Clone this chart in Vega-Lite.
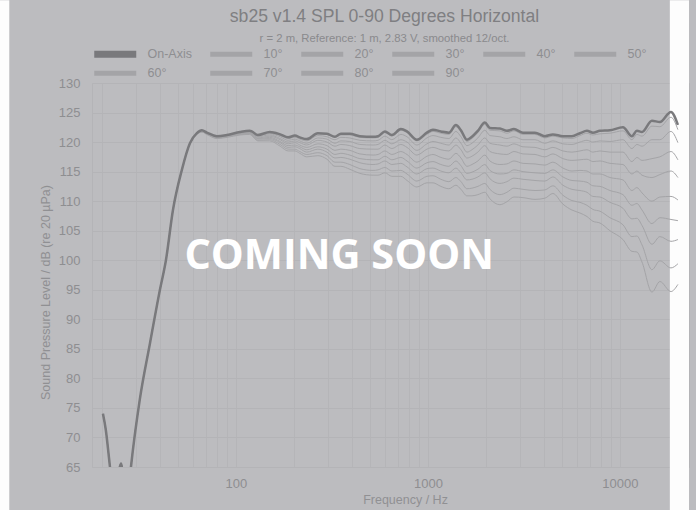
{
  "$schema": "https://vega.github.io/schema/vega-lite/v6.json",
  "width": 597,
  "height": 384,
  "autosize": "none",
  "padding": {"left": 92, "top": 83, "right": 7, "bottom": 43},
  "background": "#bcbcbf",
  "title": {
    "text": "sb25 v1.4 SPL 0-90 Degrees Horizontal",
    "subtitle": "r = 2 m,  Reference: 1 m, 2.83 V, smoothed 12/oct.",
    "anchor": "middle",
    "frame": "group",
    "font": "Liberation Sans",
    "fontSize": 17.6,
    "fontWeight": "normal",
    "color": "#7f7f82",
    "subtitleFont": "Liberation Sans",
    "subtitleFontSize": 11.3,
    "subtitleColor": "#8a8a8d",
    "subtitlePadding": 7,
    "offset": -44,
    "dx": -6
  },
  "datasets": {
    "spl": [
      {"f":20.3,"On-Axis":74,"10°":74,"20°":74,"30°":74,"40°":74,"50°":74,"60°":74,"70°":74,"80°":74,"90°":74},
      {"f":21,"On-Axis":71.3,"10°":71.3,"20°":71.3,"30°":71.3,"40°":71.3,"50°":71.3,"60°":71.3,"70°":71.3,"80°":71.3,"90°":71.3},
      {"f":22,"On-Axis":65.5,"10°":65.5,"20°":65.5,"30°":65.5,"40°":65.5,"50°":65.5,"60°":65.5,"70°":65.5,"80°":65.5,"90°":65.5},
      {"f":23,"On-Axis":60,"10°":60,"20°":60,"30°":60,"40°":60,"50°":60,"60°":60,"70°":60,"80°":60,"90°":60},
      {"f":24,"On-Axis":62.5,"10°":62.5,"20°":62.5,"30°":62.5,"40°":62.5,"50°":62.5,"60°":62.5,"70°":62.5,"80°":62.5,"90°":62.5},
      {"f":25.2,"On-Axis":65.6,"10°":65.6,"20°":65.6,"30°":65.6,"40°":65.6,"50°":65.6,"60°":65.6,"70°":65.6,"80°":65.6,"90°":65.6},
      {"f":26.3,"On-Axis":61,"10°":61,"20°":61,"30°":61,"40°":61,"50°":61,"60°":61,"70°":61,"80°":61,"90°":61},
      {"f":27.4,"On-Axis":60,"10°":60,"20°":60,"30°":60,"40°":60,"50°":60,"60°":60,"70°":60,"80°":60,"90°":60},
      {"f":28.4,"On-Axis":65,"10°":65,"20°":65,"30°":65,"40°":65,"50°":65,"60°":65,"70°":65,"80°":65,"90°":65},
      {"f":31.6,"On-Axis":76.5,"10°":76.5,"20°":76.5,"30°":76.5,"40°":76.5,"50°":76.5,"60°":76.5,"70°":76.5,"80°":76.5,"90°":76.5},
      {"f":35.7,"On-Axis":86,"10°":86,"20°":86,"30°":86,"40°":86,"50°":86,"60°":86,"70°":86,"80°":86,"90°":86},
      {"f":40.2,"On-Axis":95,"10°":95,"20°":95,"30°":95,"40°":95,"50°":95,"60°":95,"70°":95,"80°":95,"90°":95},
      {"f":43.2,"On-Axis":100,"10°":100,"20°":100,"30°":100,"40°":100,"50°":100,"60°":100,"70°":100,"80°":100,"90°":100},
      {"f":47,"On-Axis":108.5,"10°":108.5,"20°":108.5,"30°":108.5,"40°":108.5,"50°":108.5,"60°":108.5,"70°":108.5,"80°":108.5,"90°":108.5},
      {"f":52.3,"On-Axis":115.3,"10°":115.3,"20°":115.3,"30°":115.3,"40°":115.3,"50°":115.3,"60°":115.3,"70°":115.3,"80°":115.3,"90°":115.3},
      {"f":57.6,"On-Axis":119.8,"10°":119.8,"20°":119.8,"30°":119.8,"40°":119.8,"50°":119.8,"60°":119.7,"70°":119.7,"80°":119.7,"90°":119.7},
      {"f":62.6,"On-Axis":121.5,"10°":121.5,"20°":121.5,"30°":121.5,"40°":121.4,"50°":121.4,"60°":121.4,"70°":121.4,"80°":121.3,"90°":121.3},
      {"f":66.5,"On-Axis":122,"10°":122,"20°":122,"30°":121.9,"40°":121.9,"50°":121.9,"60°":121.8,"70°":121.8,"80°":121.7,"90°":121.7},
      {"f":70.6,"On-Axis":121.6,"10°":121.6,"20°":121.6,"30°":121.5,"40°":121.5,"50°":121.5,"60°":121.4,"70°":121.4,"80°":121.3,"90°":121.3},
      {"f":79.6,"On-Axis":121,"10°":121,"20°":121,"30°":120.9,"40°":120.9,"50°":120.8,"60°":120.8,"70°":120.7,"80°":120.7,"90°":120.6},
      {"f":89.8,"On-Axis":121.2,"10°":121.2,"20°":121.2,"30°":121.1,"40°":121.1,"50°":121,"60°":121,"70°":120.9,"80°":120.9,"90°":120.8},
      {"f":105,"On-Axis":121.7,"10°":121.7,"20°":121.6,"30°":121.6,"40°":121.5,"50°":121.5,"60°":121.4,"70°":121.3,"80°":121.3,"90°":121.2},
      {"f":118,"On-Axis":121.9,"10°":121.9,"20°":121.8,"30°":121.8,"40°":121.7,"50°":121.6,"60°":121.5,"70°":121.5,"80°":121.4,"90°":121.3},
      {"f":121,"On-Axis":121.8,"10°":121.8,"20°":121.7,"30°":121.6,"40°":121.6,"50°":121.5,"60°":121.4,"70°":121.3,"80°":121.2,"90°":121.1},
      {"f":130,"On-Axis":121.2,"10°":121.2,"20°":121.1,"30°":121,"40°":120.9,"50°":120.7,"60°":120.6,"70°":120.5,"80°":120.3,"90°":120.2},
      {"f":150,"On-Axis":121.7,"10°":121.7,"20°":121.5,"30°":121.4,"40°":121.2,"50°":121,"60°":120.8,"70°":120.6,"80°":120.4,"90°":120.2},
      {"f":170,"On-Axis":121.3,"10°":121.2,"20°":121.1,"30°":120.9,"40°":120.6,"50°":120.4,"60°":120.1,"70°":119.9,"80°":119.6,"90°":119.3},
      {"f":187,"On-Axis":120.8,"10°":120.7,"20°":120.6,"30°":120.3,"40°":120,"50°":119.7,"60°":119.4,"70°":119.1,"80°":118.8,"90°":118.5},
      {"f":203,"On-Axis":121.1,"10°":121,"20°":120.8,"30°":120.5,"40°":120.2,"50°":119.9,"60°":119.5,"70°":119.2,"80°":118.8,"90°":118.5},
      {"f":215,"On-Axis":120.8,"10°":120.7,"20°":120.5,"30°":120.2,"40°":119.9,"50°":119.5,"60°":119.2,"70°":118.9,"80°":118.4,"90°":118.1},
      {"f":234,"On-Axis":120.5,"10°":120.4,"20°":120.2,"30°":119.8,"40°":119.5,"50°":119.1,"60°":118.7,"70°":118.3,"80°":117.9,"90°":117.5},
      {"f":267,"On-Axis":121.5,"10°":121.4,"20°":121.1,"30°":120.7,"40°":120.3,"50°":119.7,"60°":119.2,"70°":118.8,"80°":118.2,"90°":117.7},
      {"f":298,"On-Axis":121.4,"10°":121.3,"20°":120.9,"30°":120.5,"40°":120,"50°":119.4,"60°":118.8,"70°":118.3,"80°":117.7,"90°":117.1},
      {"f":328,"On-Axis":120.9,"10°":120.8,"20°":120.4,"30°":119.8,"40°":119.3,"50°":118.6,"60°":117.9,"70°":117.3,"80°":116.6,"90°":115.9},
      {"f":352,"On-Axis":121.4,"10°":121.2,"20°":120.8,"30°":120.2,"40°":119.6,"50°":118.8,"60°":118.1,"70°":117.4,"80°":116.6,"90°":115.9},
      {"f":392,"On-Axis":121.4,"10°":121.2,"20°":120.7,"30°":120.1,"40°":119.4,"50°":118.6,"60°":117.8,"70°":117.1,"80°":116.2,"90°":115.4},
      {"f":442,"On-Axis":121,"10°":120.8,"20°":120.3,"30°":119.6,"40°":118.9,"50°":118,"60°":117.2,"70°":116.5,"80°":115.5,"90°":114.7},
      {"f":518,"On-Axis":120.9,"10°":120.7,"20°":120.2,"30°":119.5,"40°":118.8,"50°":117.8,"60°":117,"70°":116.2,"80°":115.2,"90°":114.4},
      {"f":550,"On-Axis":121,"10°":120.8,"20°":120.3,"30°":119.6,"40°":118.8,"50°":117.9,"60°":117,"70°":116.3,"80°":115.3,"90°":114.4},
      {"f":597,"On-Axis":121.8,"10°":121.6,"20°":121,"30°":120.3,"40°":119.5,"50°":118.5,"60°":117.6,"70°":116.8,"80°":115.7,"90°":114.8},
      {"f":649,"On-Axis":121.2,"10°":121,"20°":120.4,"30°":119.7,"40°":118.9,"50°":117.9,"60°":117,"70°":116.2,"80°":115.1,"90°":114.2},
      {"f":723,"On-Axis":122.2,"10°":122,"20°":121.3,"30°":120.4,"40°":119.6,"50°":118.4,"60°":117.4,"70°":116.4,"80°":115.2,"90°":114.2},
      {"f":778,"On-Axis":121.8,"10°":121.6,"20°":120.9,"30°":120,"40°":119.1,"50°":117.9,"60°":116.8,"70°":115.8,"80°":114.6,"90°":113.5},
      {"f":876,"On-Axis":120.4,"10°":120.2,"20°":119.5,"30°":118.6,"40°":117.8,"50°":116.6,"60°":115.6,"70°":114.6,"80°":113.4,"90°":112.4},
      {"f":988,"On-Axis":121.6,"10°":121.3,"20°":120.7,"30°":119.7,"40°":118.8,"50°":117.6,"60°":116.5,"70°":115.5,"80°":114.2,"90°":113.1},
      {"f":1062,"On-Axis":122.1,"10°":121.8,"20°":121.1,"30°":120.1,"40°":119.1,"50°":117.9,"60°":116.7,"70°":115.6,"80°":114.3,"90°":113.1},
      {"f":1168,"On-Axis":121.8,"10°":121.5,"20°":120.8,"30°":119.8,"40°":118.7,"50°":117.4,"60°":116.2,"70°":115.1,"80°":113.7,"90°":112.5},
      {"f":1286,"On-Axis":121.6,"10°":121.3,"20°":120.6,"30°":119.5,"40°":118.5,"50°":117.1,"60°":115.9,"70°":114.8,"80°":113.3,"90°":112.1},
      {"f":1399,"On-Axis":122.9,"10°":122.6,"20°":121.8,"30°":120.7,"40°":119.5,"50°":118.1,"60°":116.8,"70°":115.6,"80°":114,"90°":112.7},
      {"f":1486,"On-Axis":122,"10°":121.7,"20°":120.9,"30°":119.8,"40°":118.7,"50°":117.3,"60°":116,"70°":114.8,"80°":113.3,"90°":112},
      {"f":1597,"On-Axis":120.4,"10°":120.1,"20°":119.4,"30°":118.3,"40°":117.3,"50°":115.9,"60°":114.7,"70°":113.6,"80°":112.1,"90°":110.9},
      {"f":1695,"On-Axis":120.9,"10°":120.6,"20°":119.8,"30°":118.7,"40°":117.6,"50°":116.2,"60°":114.9,"70°":113.7,"80°":112.2,"90°":110.9},
      {"f":1820,"On-Axis":121.9,"10°":121.6,"20°":120.7,"30°":119.5,"40°":118.3,"50°":116.8,"60°":115.4,"70°":114.1,"80°":112.5,"90°":111.1},
      {"f":1980,"On-Axis":123.3,"10°":123,"20°":122,"30°":120.7,"40°":119.4,"50°":117.8,"60°":116.2,"70°":114.8,"80°":113,"90°":111.5},
      {"f":2103,"On-Axis":122.4,"10°":122,"20°":121.1,"30°":119.8,"40°":118.4,"50°":116.8,"60°":115.2,"70°":113.8,"80°":112,"90°":110.4},
      {"f":2371,"On-Axis":122.3,"10°":121.9,"20°":120.9,"30°":119.5,"40°":118,"50°":116.2,"60°":114.6,"70°":113,"80°":111.1,"90°":109.4},
      {"f":2578,"On-Axis":121.9,"10°":121.5,"20°":120.6,"30°":119.3,"40°":117.9,"50°":116.3,"60°":114.7,"70°":113.3,"80°":111.5,"90°":109.9},
      {"f":2805,"On-Axis":122.2,"10°":121.9,"20°":120.9,"30°":119.7,"40°":118.4,"50°":116.8,"60°":115.3,"70°":113.9,"80°":112.2,"90°":110.7},
      {"f":3126,"On-Axis":121.6,"10°":121.3,"20°":120.4,"30°":119.2,"40°":118,"50°":116.4,"60°":115,"70°":113.7,"80°":112,"90°":110.6},
      {"f":3610,"On-Axis":121.6,"10°":121.3,"20°":120.4,"30°":119.1,"40°":117.9,"50°":116.3,"60°":114.8,"70°":113.5,"80°":111.8,"90°":110.3},
      {"f":4067,"On-Axis":121,"10°":120.7,"20°":119.8,"30°":118.7,"40°":117.5,"50°":116.1,"60°":114.7,"70°":113.4,"80°":111.9,"90°":110.5},
      {"f":4477,"On-Axis":121.3,"10°":121,"20°":120.2,"30°":119.1,"40°":118,"50°":116.6,"60°":115.3,"70°":114.1,"80°":112.6,"90°":111.3},
      {"f":5047,"On-Axis":121,"10°":120.7,"20°":119.7,"30°":118.5,"40°":117.2,"50°":115.6,"60°":114.1,"70°":112.7,"80°":111,"90°":109.5},
      {"f":5623,"On-Axis":121,"10°":120.6,"20°":119.6,"30°":118.3,"40°":116.9,"50°":115.1,"60°":113.5,"70°":112,"80°":110.1,"90°":108.5},
      {"f":6190,"On-Axis":121.5,"10°":121.1,"20°":120,"30°":118.5,"40°":117,"50°":115.2,"60°":113.4,"70°":111.8,"80°":109.8,"90°":108},
      {"f":6735,"On-Axis":121.9,"10°":121.5,"20°":120.3,"30°":118.7,"40°":117.1,"50°":115.1,"60°":113.2,"70°":111.5,"80°":109.3,"90°":107.4},
      {"f":7230,"On-Axis":121.6,"10°":121.2,"20°":120,"30°":118.3,"40°":116.7,"50°":114.6,"60°":112.6,"70°":110.8,"80°":108.6,"90°":106.6},
      {"f":7870,"On-Axis":121.9,"10°":121.4,"20°":120.2,"30°":118.5,"40°":116.8,"50°":114.6,"60°":112.5,"70°":110.7,"80°":108.3,"90°":106.3},
      {"f":8870,"On-Axis":122,"10°":121.5,"20°":120.1,"30°":118.3,"40°":116.4,"50°":114,"60°":111.8,"70°":109.8,"80°":107.2,"90°":105},
      {"f":10370,"On-Axis":122.5,"10°":121.9,"20°":120.4,"30°":118.3,"40°":116.2,"50°":113.6,"60°":111.1,"70°":108.8,"80°":106,"90°":103.5},
      {"f":11550,"On-Axis":121,"10°":120.4,"20°":118.9,"30°":116.7,"40°":114.6,"50°":111.8,"60°":109.3,"70°":107,"80°":104,"90°":101.5},
      {"f":12260,"On-Axis":121.9,"10°":121.3,"20°":119.6,"30°":117.4,"40°":115.1,"50°":112.3,"60°":109.6,"70°":107.1,"80°":104.1,"90°":101.4},
      {"f":13030,"On-Axis":121.7,"10°":121,"20°":119.3,"30°":116.9,"40°":114.4,"50°":111.4,"60°":108.5,"70°":105.9,"80°":102.6,"90°":99.7},
      {"f":14680,"On-Axis":123.6,"10°":122.7,"20°":120.4,"30°":117.2,"40°":114,"50°":110,"60°":106.2,"70°":102.7,"80°":98.4,"90°":94.6},
      {"f":16150,"On-Axis":123.4,"10°":122.6,"20°":120.4,"30°":117.5,"40°":114.5,"50°":110.7,"60°":107.2,"70°":104,"80°":99.9,"90°":96.4},
      {"f":18440,"On-Axis":125.1,"10°":124.2,"20°":121.8,"30°":118.4,"40°":115.1,"50°":110.8,"60°":106.9,"70°":103.2,"80°":98.7,"90°":94.7},
      {"f":20050,"On-Axis":122.9,"10°":122.1,"20°":119.9,"30°":117,"40°":114,"50°":110.2,"60°":106.7,"70°":103.5,"80°":99.4,"90°":95.9}
    ]
  },
  "data": {"name": "spl"},
  "layer": [
    {
      "data": {"values": [{"strip": "left"}]},
      "mark": {"type": "rect", "fill": "#fdfdfd", "clip": false},
      "encoding": {
        "x": {"datum": 0.01, "type": "quantitative"},
        "x2": {"datum": 6.6},
        "y": {"datum": 144, "type": "quantitative"},
        "y2": {"datum": 30}
      }
    },
    {
      "data": {"values": [{"strip": "right"}]},
      "mark": {"type": "rect", "fill": "#fdfdfd", "clip": false},
      "encoding": {
        "x": {"datum": 18200, "type": "quantitative"},
        "x2": {"datum": 22900},
        "y": {"datum": 144, "type": "quantitative"},
        "y2": {"datum": 30}
      }
    },
    {
      "transform": [
        {"fold": ["On-Axis","10°","20°","30°","40°","50°","60°","70°","80°","90°"], "as": ["angle", "db"]},
        {"filter": "datum.angle != 'On-Axis'"}
      ],
      "mark": {"type": "line", "strokeWidth": 1, "clip": true, "interpolate": "monotone"},
      "encoding": {
        "x": {"field": "f", "type": "quantitative"},
        "y": {"field": "db", "type": "quantitative"},
        "color": {"field": "angle", "type": "nominal"}
      }
    },
    {
      "transform": [
        {"fold": ["On-Axis","10°","20°","30°","40°","50°","60°","70°","80°","90°"], "as": ["angle", "db"]},
        {"filter": "datum.angle == 'On-Axis'"}
      ],
      "mark": {"type": "line", "strokeWidth": 2.5, "clip": true, "interpolate": "monotone"},
      "encoding": {
        "x": {"field": "f", "type": "quantitative"},
        "y": {"field": "db", "type": "quantitative"},
        "color": {"field": "angle", "type": "nominal"}
      }
    },
    {
      "data": {"values": [{"label": "COMING SOON"}]},
      "mark": {"type": "text", "color": "white", "font": "Open Sans", "fontWeight": "bold", "fontSize": 41.5, "align": "center", "baseline": "alphabetic", "clip": false},
      "encoding": {
        "text": {"field": "label"},
        "x": {"datum": 345, "type": "quantitative"},
        "y": {"datum": 98.6, "type": "quantitative"}
      }
    }
  ],
  "encoding": {
    "x": {
      "type": "quantitative",
      "scale": {"type": "log", "domain": [17.8, 22900], "nice": false},
      "axis": {
        "title": "Frequency / Hz",
        "values": [20,30,40,50,60,70,80,90,100,200,300,400,500,600,700,800,900,1000,2000,3000,4000,5000,6000,7000,8000,9000,10000,20000],
        "format": "d",
        "labelExpr": "datum.value == 100 || datum.value == 1000 || datum.value == 10000 ? datum.label : ''",
        "grid": true,
        "gridColor": "#b5b5b8",
        "domain": false,
        "ticks": false,
        "labelPadding": 10,
        "labelFont": "Liberation Sans",
        "labelFontSize": 13,
        "labelColor": "#8e8e91",
        "titleFont": "Liberation Sans",
        "titleFontSize": 12.5,
        "titleFontWeight": "normal",
        "titleColor": "#909093",
        "titlePadding": 3,
        "titleX": 313
      }
    },
    "y": {
      "type": "quantitative",
      "scale": {"domain": [65, 130], "nice": false, "zero": false},
      "axis": {
        "title": "Sound Pressure Level / dB (re 20 µPa)",
        "values": [65,70,75,80,85,90,95,100,105,110,115,120,125,130],
        "grid": true,
        "gridColor": "#b4b4b7",
        "domain": false,
        "ticks": false,
        "labelPadding": 12,
        "labelFont": "Liberation Sans",
        "labelFontSize": 13,
        "labelColor": "#8e8e91",
        "titleFont": "Liberation Sans",
        "titleFontSize": 12.5,
        "titleFontWeight": "normal",
        "titleColor": "#909093",
        "titlePadding": 6,
        "titleY": 209
      }
    },
    "color": {
      "scale": {
        "domain": ["On-Axis","10°","20°","30°","40°","50°","60°","70°","80°","90°"],
        "range": ["#79797c","#a4a4a7","#a4a4a7","#a4a4a7","#a4a4a7","#a4a4a7","#a4a4a7","#a4a4a7","#a4a4a7","#a4a4a7"]
      },
      "legend": {
        "title": null,
        "orient": "top",
        "direction": "horizontal",
        "columns": 6,
        "gridAlign": "none",
        "symbolType": "M-1,0H9.5",
        "symbolSize": 64,
        "symbolStrokeWidth": 5,
        "symbolOpacity": 1,
        "labelFont": "Liberation Sans",
        "labelFontSize": 12.5,
        "labelColor": "#8e8e91",
        "labelOffset": 43,
        "columnPadding": 8,
        "rowPadding": -6,
        "offset": -1,
        "encode": {
          "symbols": {"update": {"strokeWidth": {"signal": "datum.value === 'On-Axis' ? 7 : 5"}}}
        }
      }
    }
  },
  "config": {
    "view": {"stroke": "#b4b4b7"},
    "legend": {"gridAlign": "none"}
  }
}
